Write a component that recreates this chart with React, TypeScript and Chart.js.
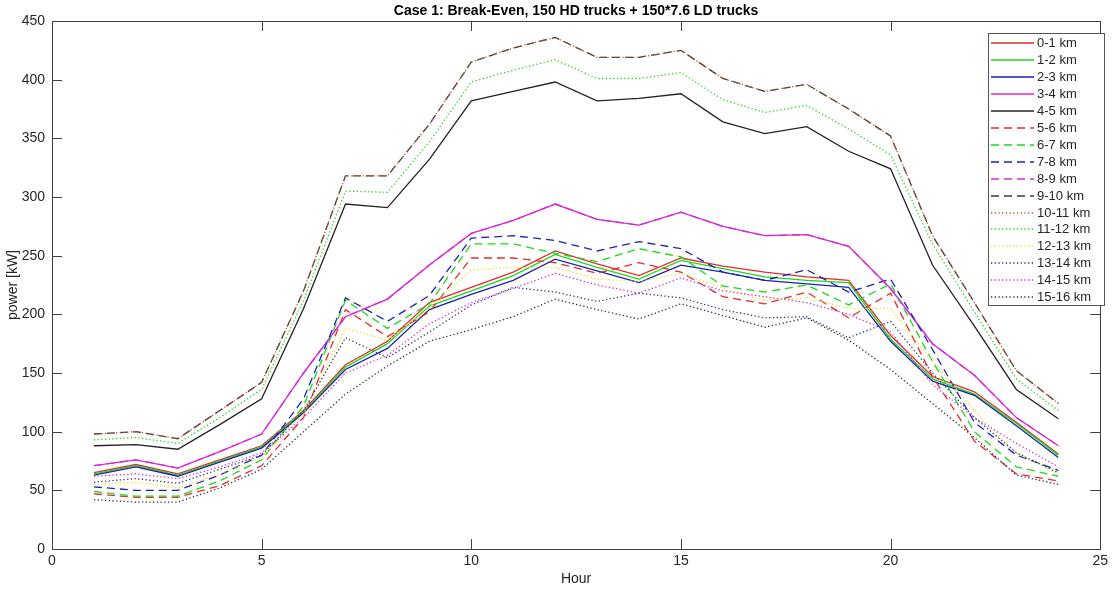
import React, { useEffect, useRef } from "react";
import { Chart, registerables } from "chart.js";

Chart.register(...registerables);

const FONT = "'Liberation Sans', Arial, Helvetica, sans-serif";
const TEXT = "#262626";
const AXIS = "#404040";

const titleText = "Case 1: Break-Even, 150 HD trucks + 150*7.6 LD trucks";
const xTitle = "Hour";
const yTitle = "power [kW]";

const xTicks = [0, 5, 10, 15, 20, 25];
const yTicks = [0, 50, 100, 150, 200, 250, 300, 350, 400, 450];

const hours = [1, 2, 3, 4, 5, 6, 7, 8, 9, 10, 11, 12, 13, 14, 15, 16, 17, 18, 19, 20, 21, 22, 23, 24];

const km0_1 = [65, 72, 64, 76, 88, 118, 157, 177, 210, 223, 236, 254, 243, 233, 248, 241, 236, 232, 229, 182, 147, 134, 108, 81];
const km1_2 = [64, 71, 63, 75, 87, 117, 155, 175, 207, 220, 233, 251, 240, 230, 246, 239, 232, 229, 227, 179, 145, 132, 107, 80];
const km2_3 = [63, 70, 62, 74, 86, 116, 153, 171, 204, 217, 229, 247, 237, 227, 242, 236, 229, 226, 223, 177, 143, 131, 105, 78];
const km3_4 = [71, 76, 69, 83, 98, 150, 198, 213, 242, 269, 280, 294, 281, 276, 287, 275, 267, 268, 258, 222, 175, 148, 112, 88];
const km4_5 = [88, 89, 85, 106, 128, 205, 294, 291, 332, 382, 390, 398, 382, 384, 388, 364, 354, 360, 339, 324, 242, 190, 136, 111];
const km5_6 = [47, 44, 44, 54, 71, 112, 204, 181, 202, 248, 248, 244, 235, 244, 236, 215, 209, 219, 197, 218, 147, 92, 64, 58];
const km6_7 = [49, 45, 45, 58, 76, 122, 212, 188, 209, 260, 260, 252, 245, 256, 249, 224, 219, 225, 208, 226, 160, 100, 70, 62];
const km7_8 = [53, 50, 50, 63, 80, 128, 214, 194, 216, 265, 267, 263, 254, 262, 256, 236, 229, 238, 219, 230, 170, 108, 80, 67];
const km8_9 = [71, 76, 69, 83, 98, 150, 198, 213, 242, 269, 280, 294, 281, 276, 287, 275, 267, 268, 258, 222, 175, 148, 112, 88];
const km9_10 = [98, 100, 94, 118, 142, 220, 318, 318, 362, 415, 427, 436, 419, 419, 425, 401, 390, 396, 375, 352, 267, 210, 152, 124];
const km10_11 = [98, 100, 94, 118, 142, 220, 318, 318, 362, 415, 427, 436, 419, 419, 425, 401, 390, 396, 375, 352, 267, 210, 152, 124];
const km11_12 = [93, 95, 90, 112, 136, 212, 305, 304, 347, 398, 408, 417, 401, 401, 406, 383, 372, 378, 358, 336, 260, 202, 145, 118];
const km12_13 = [55, 57, 52, 64, 78, 115, 188, 178, 205, 238, 240, 240, 230, 228, 235, 222, 212, 214, 205, 205, 160, 118, 82, 64];
const km13_14 = [57, 60, 56, 68, 80, 118, 180, 163, 185, 208, 223, 219, 211, 218, 214, 204, 197, 198, 180, 194, 150, 112, 82, 65];
const km14_15 = [62, 64, 60, 70, 82, 112, 150, 165, 192, 210, 222, 235, 225, 218, 231, 220, 215, 210, 200, 185, 140, 112, 90, 70];
const km15_16 = [42, 40, 40, 52, 68, 100, 132, 156, 177, 187, 198, 213, 204, 196, 209, 199, 189, 197, 178, 153, 124, 95, 63, 55];

const labels = [
  "0-1 km", "1-2 km", "2-3 km", "3-4 km", "4-5 km", "5-6 km", "6-7 km", "7-8 km",
  "8-9 km", "9-10 km", "10-11 km", "11-12 km", "12-13 km", "13-14 km", "14-15 km", "15-16 km",
];
const values = [km0_1, km1_2, km2_3, km3_4, km4_5, km5_6, km6_7, km7_8, km8_9, km9_10, km10_11, km11_12, km12_13, km13_14, km14_15, km15_16];

const RED = "rgb(225,45,45)";
const GREEN = "rgb(30,215,30)";
const BLUE = "rgb(25,35,175)";
const MAG = "rgb(215,40,215)";
const BLACK = "rgb(35,35,35)";
const colors = [
  RED, GREEN, BLUE, MAG, BLACK,
  RED, GREEN, BLUE, MAG, "rgb(60,60,60)",
  "rgb(190,90,50)", GREEN, "rgb(235,225,40)", "rgb(50,50,110)", MAG, "rgb(50,50,50)",
];
const DASH = [8, 5];
const DOT = [1.3, 2.4];
const dashes = [
  [], [], [], [], [],
  DASH, DASH, DASH, DASH, DASH,
  DOT, DOT, DOT, DOT, DOT, DOT,
];

const framePlugin = {
  id: "frame",
  afterDatasetsDraw(chart: any) {
    const { ctx, chartArea: a, scales } = chart;
    ctx.save();
    ctx.strokeStyle = AXIS;
    ctx.lineWidth = 1;
    ctx.setLineDash([]);
    ctx.strokeRect(Math.round(a.left) + 0.5, Math.round(a.top) + 0.5, Math.round(a.right - a.left), Math.round(a.bottom - a.top));
    const tl = 10;
    ctx.beginPath();
    xTicks.forEach((v) => {
      const px = Math.round(scales.x.getPixelForValue(v)) + 0.5;
      ctx.moveTo(px, a.bottom);
      ctx.lineTo(px, a.bottom - tl);
      ctx.moveTo(px, a.top);
      ctx.lineTo(px, a.top + tl);
    });
    yTicks.forEach((v) => {
      const py = Math.round(scales.y.getPixelForValue(v)) + 0.5;
      ctx.moveTo(a.left, py);
      ctx.lineTo(a.left + tl, py);
      ctx.moveTo(a.right, py);
      ctx.lineTo(a.right - tl, py);
    });
    ctx.stroke();

    // title
    ctx.fillStyle = "#000";
    ctx.font = `bold 14px ${FONT}`;
    ctx.textAlign = "center";
    ctx.textBaseline = "middle";
    ctx.fillText(titleText, (a.left + a.right) / 2, 11);

    // legend
    const bx = 988, by = 33, bw = 116, bh = 272;
    ctx.fillStyle = "#fff";
    ctx.fillRect(bx, by, bw, bh);
    ctx.strokeStyle = "#555";
    ctx.lineWidth = 1;
    ctx.strokeRect(bx + 0.5, by + 0.5, bw, bh);
    ctx.font = `13px ${FONT}`;
    ctx.textAlign = "left";
    ctx.fillStyle = TEXT;
    chart.data.datasets.forEach((ds: any, i: number) => {
      const y = Math.round(43 + i * 16.95);
      ctx.strokeStyle = ds.borderColor;
      ctx.lineWidth = 1.5;
      ctx.setLineDash(ds.borderDash && ds.borderDash.length ? ds.borderDash : []);
      ctx.beginPath();
      ctx.moveTo(991, y);
      ctx.lineTo(1034, y);
      ctx.stroke();
      ctx.fillText(ds.label, 1037, y);
    });
    ctx.restore();
  },
};

export default function App() {
  const ref = useRef<HTMLCanvasElement | null>(null);
  useEffect(() => {
    if (!ref.current) return;
    const datasets = values.map((vals, i) => ({
      label: labels[i],
      data: hours.map((h, j) => ({ x: h, y: vals[j] })),
      borderColor: colors[i],
      backgroundColor: colors[i],
      borderWidth: 1.3,
      borderDash: dashes[i],
      pointRadius: 0,
      tension: 0,
      fill: false,
      order: values.length - i,
    }));
    const chart = new Chart(ref.current, {
      type: "line",
      data: { datasets },
      options: {
        responsive: false,
        animation: false,
        layout: { padding: { top: 21, right: 5, left: 0, bottom: 0 } },
        plugins: { legend: { display: false }, tooltip: { enabled: false }, title: { display: false } },
        scales: {
          x: {
            type: "linear",
            min: 0,
            max: 25,
            ticks: { stepSize: 5, padding: 4, color: TEXT, font: { size: 14, family: FONT }, maxRotation: 0 },
            grid: { display: false, drawTicks: false },
            border: { display: false },
            title: { display: true, text: xTitle, color: TEXT, font: { size: 14, family: FONT }, padding: { top: 0, bottom: 3 } },
            afterFit: (s: any) => { s.height = 42; },
          },
          y: {
            type: "linear",
            min: 0,
            max: 450,
            ticks: { stepSize: 50, padding: 7, color: TEXT, font: { size: 14, family: FONT } },
            grid: { display: false, drawTicks: false },
            border: { display: false },
            title: { display: true, text: yTitle, color: TEXT, font: { size: 14, family: FONT }, padding: { top: 5, bottom: 0 } },
            afterFit: (s: any) => { s.width = 52; },
          },
        },
      },
      plugins: [framePlugin],
    });
    return () => chart.destroy();
  }, []);
  return (
    <div style={{ position: "fixed", left: 0, top: 0, width: 1112, height: 591, background: "#fff" }}>
      <canvas ref={ref} width={1112} height={591} style={{ display: "block" }} />
    </div>
  );
}
